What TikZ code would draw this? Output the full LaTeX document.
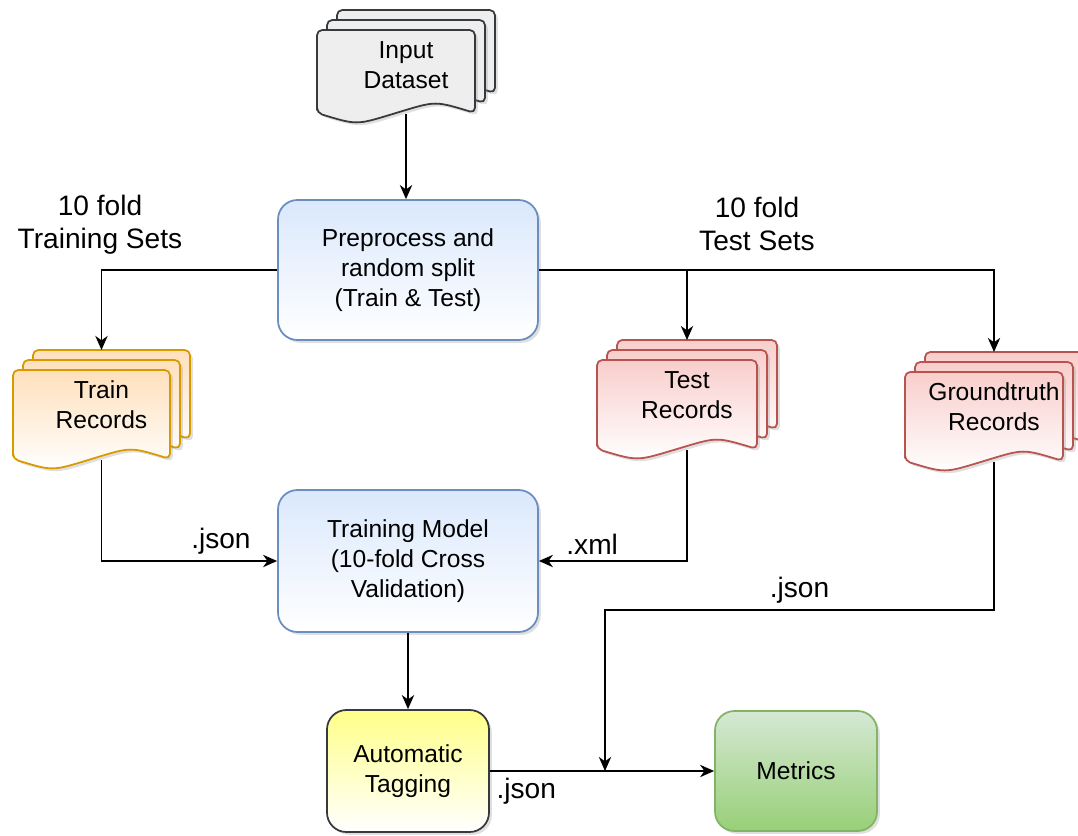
\documentclass[tikz,border=0pt]{standalone}
\usepackage{fontspec}
\setmainfont{Liberation Sans}
\usetikzlibrary{arrows.meta,shadows}

\definecolor{blueline}{HTML}{6C8EBF}
\definecolor{bluefill}{HTML}{DAE8FC}
\definecolor{orangeline}{HTML}{D79B00}
\definecolor{orangefill}{HTML}{FFE0BC}
\definecolor{redline}{HTML}{B85450}
\definecolor{redfill}{HTML}{F8CECC}
\definecolor{darkline}{HTML}{36393D}
\definecolor{grayfill}{HTML}{EEEEEE}
\definecolor{yellowfill}{HTML}{FFFF88}
\definecolor{greenline}{HTML}{82B366}
\definecolor{greentop}{HTML}{D5E8D4}
\definecolor{greenbot}{HTML}{97D077}

% stack of three pages: name, x, y (front top), width, height, style, text
\newcommand{\docstack}[7]{%
  \foreach \k in {2,1,0}{%
    \draw[#6, shift={(#2+10*\k,#3-10*\k)}] (0,#5-9) -- (0,0) -- (#4,0) -- (#4,#5-9)
      .. controls (0.75*#4,#5-21) .. (0.5*#4,#5-9)
      .. controls (0.25*#4,#5+3) .. cycle;
  }
  \coordinate (#1-t) at (#2+#4/2+10,#3-20);
  \coordinate (#1-b) at (#2+#4/2+10,#3+#5-8);
  \node[doctext] (#1) at (#2+#4/2+10,#3+35) {#7};
}

\begin{document}
\begin{tikzpicture}[x=0.02cm, y=-0.02cm,
    shade/.style={drop shadow={opacity=0.25, shadow xshift=1.6pt, shadow yshift=-1.6pt}},
    page/.style={shade, line width=1pt, rounded corners=3pt, line join=round},
    doctext/.style={align=center, font=\fontsize{14}{17}\selectfont},
    flowbox/.style={shade, draw, line width=1pt, rounded corners=11pt, align=center,
      minimum width=5.2cm, minimum height=2.8cm, font=\fontsize{14}{17}\selectfont},
    bluebox/.style={draw=blueline, top color=bluefill, bottom color=white},
    yellowbox/.style={draw=darkline, top color=yellowfill, bottom color=white},
    greenbox/.style={draw=greenline, top color=greentop, bottom color=greenbot},
    arr/.style={line width=1pt, -{Stealth[length=8pt, width=7pt, inset=2.5pt]}},
    lbl/.style={font=\fontsize{16}{19}\selectfont, align=center}]

    \useasboundingbox (0,0) rectangle (1078,835);

    % documents
    \docstack{input}{317}{30}{158}{92}{page, draw=darkline, fill=grayfill}{Input\\Dataset}
    \docstack{train}{13}{370}{157}{98}{page, draw=orangeline, top color=orangefill, bottom color=white}{Train\\Records}
    \docstack{test}{597}{360}{160}{98}{page, draw=redline, top color=redfill, bottom color=white}{Test\\Records}
    \docstack{gt}{905}{372}{158}{98}{page, draw=redline, top color=redfill, bottom color=white}{Groundtruth\\Records}

    % process boxes
    \node[flowbox, bluebox] (prep) at (408,270) {Preprocess and\\random split\\(Train \& Test)};
    \node[flowbox, bluebox, minimum height=2.84cm] (model) at (408,561) {Training Model\\(10-fold Cross\\Validation)};
    \node[flowbox, yellowbox, minimum width=3.24cm, minimum height=2.44cm] (tag) at (408,771) {Automatic\\Tagging};
    \node[flowbox, greenbox, minimum width=3.24cm, minimum height=2.4cm] (metrics) at (796,771) {Metrics};

    \node[lbl] (trainsets) at (100,225) {10 fold\\Training Sets};
    \node[lbl] (testsets) at (757,224) {10 fold\\Test Sets};

    \coordinate (jtop) at (605,610);
    \coordinate (join) at (605,771);

    % connectors
    \draw[arr] (input-b) -- (input-b |- prep.north);
    \draw[arr] (prep.west) -| (train-t);
    \draw[arr] (prep.east) -| (gt-t);
    \draw[arr] (test-t |- prep.east) -- (test-t);
    \draw[arr] (train-b) |- (model.west) node[lbl, pos=0.84, above] {.json};
    \draw[arr] (test-b) |- (model.east) node[lbl, pos=0.82, above] {.xml};
    \draw[arr] (gt-b) |- (jtop) node[lbl, pos=0.75, above] {.json} -- (join);
    \draw[arr] (model) -- (tag);
    \draw[arr] (tag) -- (metrics) node[lbl, pos=0, below right] {.json};
\end{tikzpicture}
\end{document}
